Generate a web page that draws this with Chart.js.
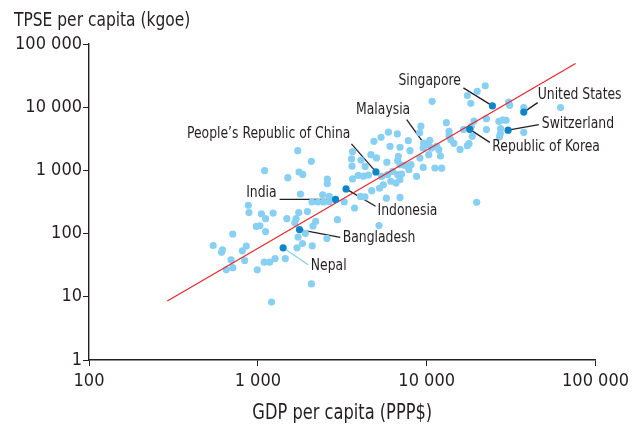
<!DOCTYPE html>
<html>
<head>
<meta charset="utf-8">
<script src="https://cdn.jsdelivr.net/npm/chart.js@4.4.1/dist/chart.umd.min.js"></script>
<style>
  html, body { margin: 0; padding: 0; background: #ffffff; }
  #wrap { width: 634px; height: 426px; position: relative; }
</style>
</head>
<body>
<div id="wrap"><canvas id="c" width="634" height="426"></canvas></div>
<script>
// ---------- DATA ----------
const xTickValues = [100, 1000, 10000, 100000];
const yTickValues = [1, 10, 100, 1000, 10000, 100000];
const xAxisTitle = 'GDP per capita (PPP$)';
const yAxisTitle = 'TPSE per capita (kgoe)';

// all other countries (light points)
const gdpOther = [1723, 2076, 1096, 1754, 1845, 1505, 2580, 2580, 3637, 4080, 4675, 5040, 3588, 3613, 4320, 5810,
  3930, 4220, 4520, 3637, 4725, 5250, 4055, 4310, 1788, 2420, 2650, 2094, 2270, 2453, 2645, 3250, 3737, 878, 886,
  1050, 1111, 1232, 1485, 1747, 1966, 1684, 1655, 2200, 2119, 2960, 979, 1029, 1111, 1913, 1730, 2566, 5220, 710,
  544, 617, 610, 854, 809, 836, 1707, 1840, 2099, 1454, 694, 711, 650, 1091, 1175, 1265, 992, 2076, 1206, 22220,
  19910, 17400, 18250, 10770, 30570, 30990, 37570, 62100, 13080, 22580, 22580, 26760, 28260, 29550, 27380, 27300,
  27010, 37570, 19060, 18380, 18620, 17810, 17400, 16530, 13570, 13570, 13850, 15760, 14490, 10440, 10200, 10670,
  11460, 11800, 12060, 9240, 9090, 9540, 5930, 5370, 4870, 6700, 7780, 6070, 6950, 6790, 6730, 6950, 7960, 9120,
  10280, 9540, 11180, 12260, 8710, 5410, 5870, 6280, 6730, 7100, 7440, 8070, 7850, 6930, 6130, 6580, 5540, 5770,
  6950, 19770];
const tpseOther = [2050, 1390, 989, 944, 865, 766, 731, 615, 1977, 1462, 1774, 1573, 1517, 1167, 1157, 1349,
  833, 809, 845, 733, 477, 522, 387, 383, 423, 412, 390, 316, 316, 317, 319, 316, 254, 281, 215,
  206, 172, 211, 172, 215, 223, 172, 148, 156, 132, 166, 130, 133, 108, 101, 88, 84, 134, 98.6,
  64.8, 55.4, 50.5, 63.4, 53.4, 37.5, 59.6, 69.5, 64.1, 40.2, 38.5, 28.9, 26.7, 35.3, 35.3, 40.2, 26.7, 16.0, 8.24, 21800,
  17800, 15300, 11500, 12400, 12050, 10700, 9860, 9860, 5700, 6590, 4420, 5980, 6290, 6200, 4580, 3820,
  3420, 4000, 6025, 4980, 3460, 2650, 2460, 4420, 4150, 3550, 3070, 2150, 2680, 2990, 2550, 2265,
  2400, 2130, 1690, 5010, 3960, 2265, 4030, 3335, 2880, 3780, 2955, 2400, 2315, 1667, 1425, 1231, 2050, 1573,
  1774, 1116, 1092, 1084, 804, 804, 855, 964, 855, 877, 1200, 1231, 1026, 712, 674, 631, 593, 363,
  373, 313];

// labelled countries
const countries = ['Singapore', 'United States', 'Switzerland', 'Republic of Korea', 'Malaysia',
  'People\u2019s Republic of China', 'India', 'Indonesia', 'Bangladesh', 'Nepal'];
const gdpLabelled = [24500, 37570, 30360, 18000, 9600, 5005, 2887, 3330, 1764, 1412];
const tpseLabelled = [10490, 8360, 4335, 4465, 2700, 946, 347, 509, 116, 59.6];

// fitted trend line end points
const fitGdp = [291, 76200];
const fitTpse = [8.6, 49100];

// ---------- STYLE ----------
const LIGHT = '#88d0f3';
const DARK = '#0a86c8';
const INK = '#231f20';
const RED = '#e8252b';
const LABELFONT = '"DejaVu Sans Condensed", "DejaVu Sans", sans-serif';
const TICKFONT = '"DejaVu Sans Condensed", "Liberation Sans", sans-serif';
const HSCALE = 0.86; // horizontal condensing of annotation text

// label placement (pixel offsets from the point): text anchor + leader start
const labelLayout = {
  'Singapore':                    { dx: -31.5, dy: -25,  align: 'right', lx: -29,  ly: -18 },
  'United States':                { dx: 14,    dy: -17.5, align: 'left', lx: 14,   ly: -9.5 },
  'Switzerland':                  { dx: 33.7,  dy: -6,   align: 'left',  lx: 30.7, ly: -5.5 },
  'Republic of Korea':            { dx: 22.5,  dy: 17.8, align: 'left',  lx: 20,   ly: 13 },
  'Malaysia':                     { dx: -13.5, dy: -33,  align: 'right', lx: -17,  ly: -23.5 },
  'People\u2019s Republic of China': { dx: -25.5, dy: -38, align: 'right', lx: -24.5, ly: -28 },
  'India':                        { dx: -59,   dy: -6.5, align: 'right', lx: -56,  ly: 0 },
  'Indonesia':                    { dx: 31.5,  dy: 21.8, align: 'left',  lx: 29.5, ly: 17.3 },
  'Bangladesh':                   { dx: 43.3,  dy: 8.8,  align: 'left',  lx: 40.8, ly: 7.8 },
  'Nepal':                        { dx: 27.7,  dy: 18,   align: 'left',  lx: 25,   ly: 17, leader: LIGHT }
};

function fmt(v) {
  return String(v).replace(/\B(?=(\d{3})+(?!\d))/g, ' ');
}

const zip = (xs, ys) => xs.map((x, i) => ({ x: x, y: ys[i] }));

function condensedText(ctx, text, x, y, align, sx) {
  ctx.save();
  ctx.translate(x, y);
  ctx.scale(sx, 1);
  ctx.textAlign = align;
  ctx.fillText(text, 0, 0);
  ctx.restore();
}

const annotatePlugin = {
  id: 'annotate',
  beforeDatasetsDraw(chart) {
    const ctx = chart.ctx;
    const xs = chart.scales.x, ys = chart.scales.y;
    ctx.save();
    countries.forEach((name, i) => {
      const L = labelLayout[name];
      const px = xs.getPixelForValue(gdpLabelled[i]);
      const py = ys.getPixelForValue(tpseLabelled[i]);
      ctx.beginPath();
      ctx.strokeStyle = L.leader || INK;
      ctx.lineWidth = 1.3;
      ctx.moveTo(px + L.lx, py + L.ly);
      ctx.lineTo(px, py);
      ctx.stroke();
    });
    ctx.restore();
  },
  afterDraw(chart) {
    const ctx = chart.ctx;
    const xs = chart.scales.x, ys = chart.scales.y;
    const area = chart.chartArea;
    ctx.save();
    ctx.fillStyle = INK;
    ctx.font = '16px ' + LABELFONT;
    ctx.textBaseline = 'middle';
    countries.forEach((name, i) => {
      const L = labelLayout[name];
      const px = xs.getPixelForValue(gdpLabelled[i]);
      const py = ys.getPixelForValue(tpseLabelled[i]);
      condensedText(ctx, name, px + L.dx, py + L.dy, L.align, HSCALE);
    });
    // axis titles
    ctx.textBaseline = 'alphabetic';
    ctx.font = '20px ' + LABELFONT;
    condensedText(ctx, yAxisTitle, area.left - 75, 26, 'left', HSCALE);
    ctx.font = '21px ' + LABELFONT;
    condensedText(ctx, xAxisTitle, (area.left + area.right) / 2, 419, 'center', HSCALE);
    ctx.restore();
  }
};

const axisCommon = {
  type: 'logarithmic',
  grid: { display: true, drawOnChartArea: false, drawTicks: true, tickLength: 6, color: INK, lineWidth: 1 },
  border: { display: true, color: INK, width: 1.4 },
};

new Chart(document.getElementById('c'), {
  type: 'scatter',
  data: {
    datasets: [
      {
        label: 'labelled',
        data: zip(gdpLabelled, tpseLabelled),
        pointRadius: 3.6,
        pointBackgroundColor: (c) => countries[c.dataIndex] === 'Malaysia' ? LIGHT : DARK,
        pointBorderWidth: 0,
        order: 0
      },
      {
        type: 'line',
        label: 'fit',
        data: zip(fitGdp, fitTpse),
        borderColor: RED,
        borderWidth: 1.2,
        pointRadius: 0,
        fill: false,
        order: 1
      },
      {
        label: 'other',
        data: zip(gdpOther, tpseOther),
        pointRadius: 3.6,
        pointBackgroundColor: LIGHT,
        pointBorderWidth: 0,
        order: 2
      }
    ]
  },
  options: {
    responsive: false,
    animation: false,
    devicePixelRatio: 1,
    layout: { padding: { left: 0, right: 36, top: 44, bottom: 0 } },
    plugins: { legend: { display: false }, tooltip: { enabled: false }, title: { display: false } },
    scales: {
      x: Object.assign({}, axisCommon, {
        position: 'bottom',
        min: xTickValues[0], max: xTickValues[xTickValues.length - 1],
        afterBuildTicks: (s) => { s.ticks = xTickValues.map(v => ({ value: v })); },
        afterFit: (s) => { s.height = 66; },
        ticks: {
          autoSkip: false, maxRotation: 0, padding: 5, color: INK,
          font: { family: TICKFONT, size: 18 },
          callback: (v) => fmt(v)
        }
      }),
      y: Object.assign({}, axisCommon, {
        position: 'left',
        min: yTickValues[0], max: yTickValues[yTickValues.length - 1],
        afterBuildTicks: (s) => { s.ticks = yTickValues.map(v => ({ value: v })); },
        afterFit: (s) => { s.width = 89; },
        ticks: {
          autoSkip: false, padding: 1, color: INK,
          font: { family: TICKFONT, size: 18 },
          callback: (v) => fmt(v)
        }
      })
    }
  },
  plugins: [annotatePlugin]
});
</script>
</body>
</html>
